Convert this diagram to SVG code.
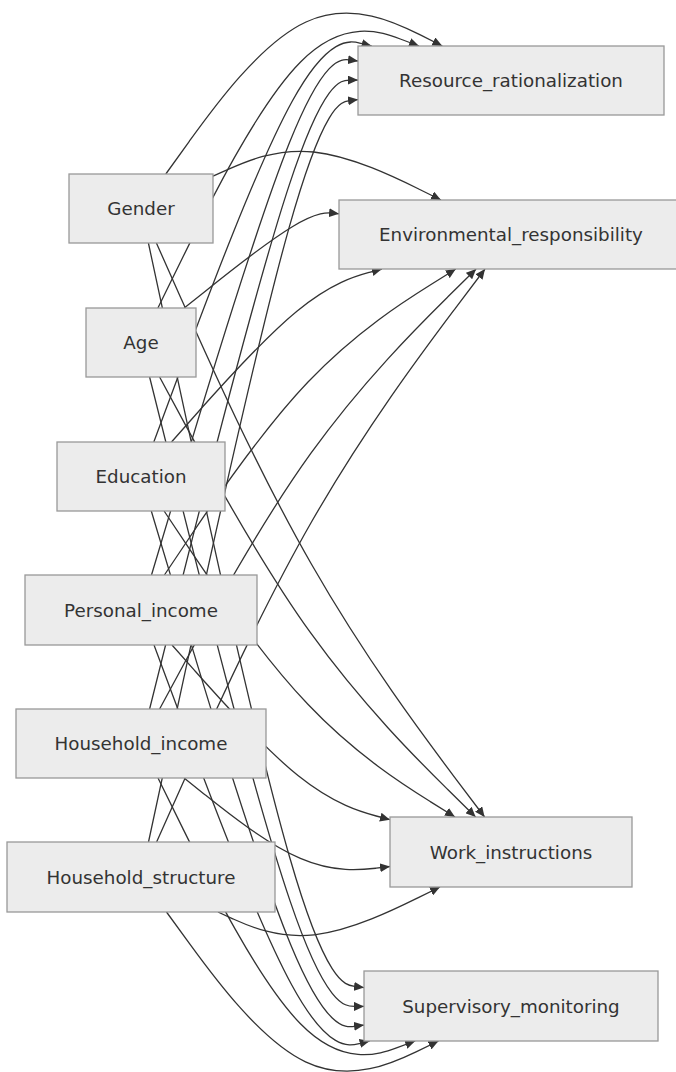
<svg xmlns="http://www.w3.org/2000/svg" width="676" height="1072" viewBox="0 0 676 1072">
<style>
.edge{fill:none;stroke:#333;stroke-width:1.3;marker-end:url(#arrow)}
.node rect{fill:#ececec;stroke:#999;stroke-width:1.3}
.node text{font-family:"DejaVu Sans",sans-serif;font-size:18.3px;fill:#333;text-anchor:middle}
</style>
<defs>
<marker id="arrow" viewBox="0 0 10 9" refX="10" refY="4.5" markerWidth="10" markerHeight="9" markerUnits="userSpaceOnUse" orient="auto">
<path d="M0,0 L10,4.5 L0,9 z" fill="#333"/>
</marker>
</defs>
<rect x="0" y="0" width="676" height="1072" fill="#fff"/>
<g id="connectors">
<path class="edge" d="M165.8,174 L189.3,141.3 C212.9,108.7 259.9,43.3 306,22 C352.1,0.7 397.2,23.3 419.8,34.7 L442.3,46"/>
<path class="edge" d="M213,176.2 L228.7,169.2 C244.3,162.1 275.7,148.1 313.7,152 C351.7,156 396.3,178 418.7,189 L441,200"/>
<path class="edge" d="M156.4,243 L181.5,299.4 C206.6,355.8 256.8,468.7 311.5,564.3 C366.2,660 425.4,738.5 455,777.8 L484.6,817"/>
<path class="edge" d="M148.4,243 L174.8,365.9 C201.3,488.8 254.1,734.7 290.1,858.8 C326,982.9 345,985.2 354.5,986.4 L364,987.6"/>
<path class="edge" d="M157.9,308 L182.8,257.3 C207.6,206.7 257.3,105.3 300.8,61.7 C344.3,18 381.7,32 400.3,39 L419,46"/>
<path class="edge" d="M184.2,308 L204.7,291.7 C225.1,275.3 266.1,242.7 291.9,227 C317.7,211.3 328.3,212.5 333.7,213.2 L339,213.8"/>
<path class="edge" d="M159.6,377 L184.2,422.6 C208.7,468.2 257.9,559.3 310.5,632.7 C363.2,706 419.4,761.5 447.5,789.3 L475.6,817"/>
<path class="edge" d="M149.6,377 L175.8,481.9 C202.1,586.8 254.5,796.7 290.3,901.6 C326,1006.5 345,1006.4 354.5,1006.4 L364,1006.4"/>
<path class="edge" d="M153.8,442 L179.3,373.3 C204.9,304.7 255.9,167.3 292.2,101.3 C328.5,35.3 350.1,40.7 360.8,43.3 L371.6,46"/>
<path class="edge" d="M171.5,442 L194.1,416.5 C216.7,391 261.8,340 296.9,311.2 C332,282.3 356.9,275.7 369.4,272.3 L381.9,269"/>
<path class="edge" d="M164.1,511 L187.9,546.6 C211.7,582.2 259.4,653.3 307.9,704.3 C356.3,755.3 405.7,786.2 430.3,801.6 L455,817"/>
<path class="edge" d="M151.3,511 L177.3,597.9 C203.2,684.8 255.1,858.7 290.6,944.4 C326,1030 345,1027.6 354.5,1026.3 L364,1025.1"/>
<path class="edge" d="M151.5,575 L177.4,488.3 C203.3,401.5 255.2,228 289.6,142.3 C324,56.7 341,58.8 349.5,59.9 L358,61"/>
<path class="edge" d="M164.4,575 L188.2,539.5 C211.9,504 259.5,433 308,382 C356.6,331 406.2,300 431,284.5 L455.8,269"/>
<path class="edge" d="M172,645 L194.5,670.4 C217,695.8 262,746.7 298.3,775.8 C334.7,804.9 362.3,812.3 376.2,816 L390,819.7"/>
<path class="edge" d="M154,645 L179.5,713.6 C205,782.2 256,919.3 291.9,985.3 C327.9,1051.3 348.7,1046.2 359.2,1043.6 L369.6,1041"/>
<path class="edge" d="M149.6,709 L175.8,604.2 C202.1,499.3 254.5,289.7 289.3,184.9 C324,80 341,80.1 349.5,80.1 L358,80.1"/>
<path class="edge" d="M159.6,709 L184.2,663.5 C208.7,618 257.9,527 310.6,453.7 C363.4,380.3 419.7,324.7 447.9,296.8 L476.1,269"/>
<path class="edge" d="M184.1,778 L204.6,794.4 C225.1,810.8 266,843.7 300.4,858.4 C334.7,873.2 362.3,869.8 376.2,868.2 L390,866.5"/>
<path class="edge" d="M158,778 L182.8,828.4 C207.7,878.8 257.3,979.7 300.2,1023.5 C343.1,1067.3 379.1,1054.2 397.2,1047.6 L415.2,1041"/>
<path class="edge" d="M148.5,842 L174.9,719.3 C201.3,596.7 254.2,351.3 289.1,227.6 C324,103.9 341,101.7 349.5,100.7 L358,99.6"/>
<path class="edge" d="M156.6,842 L181.7,785.8 C206.7,729.7 256.9,617.3 311.6,521.8 C366.3,426.3 425.7,347.7 455.3,308.3 L485,269"/>
<path class="edge" d="M218,912 L232.8,918.8 C247.7,925.5 277.3,939 314.3,934.8 C351.3,930.7 395.7,908.8 417.8,897.9 L440,887"/>
<path class="edge" d="M166.5,912 L189.9,944.1 C213.3,976.2 260.2,1040.3 305.5,1061.8 C350.8,1083.3 394.7,1062.2 416.6,1051.6 L438.5,1041"/>
</g>
<g id="Gender" class="node"><rect x="69" y="174" width="144" height="69"/><text x="141" y="215">Gender</text></g>
<g id="Age" class="node"><rect x="86" y="308" width="110" height="69"/><text x="141" y="349">Age</text></g>
<g id="Education" class="node"><rect x="57" y="442" width="168" height="69"/><text x="141" y="483">Education</text></g>
<g id="Personal_income" class="node"><rect x="25" y="575" width="232" height="70"/><text x="141" y="616.5">Personal_income</text></g>
<g id="Household_income" class="node"><rect x="16" y="709" width="250" height="69"/><text x="141" y="750">Household_income</text></g>
<g id="Household_structure" class="node"><rect x="7" y="842" width="268" height="70"/><text x="141" y="883.5">Household_structure</text></g>
<g id="Resource_rationalization" class="node"><rect x="358" y="46" width="306" height="69"/><text x="511" y="87">Resource_rationalization</text></g>
<g id="Environmental_responsibility" class="node"><rect x="339" y="200" width="344" height="69"/><text x="511" y="241">Environmental_responsibility</text></g>
<g id="Work_instructions" class="node"><rect x="390" y="817" width="242" height="70"/><text x="511" y="858.5">Work_instructions</text></g>
<g id="Supervisory_monitoring" class="node"><rect x="364" y="971" width="294" height="70"/><text x="511" y="1012.5">Supervisory_monitoring</text></g>
</svg>
